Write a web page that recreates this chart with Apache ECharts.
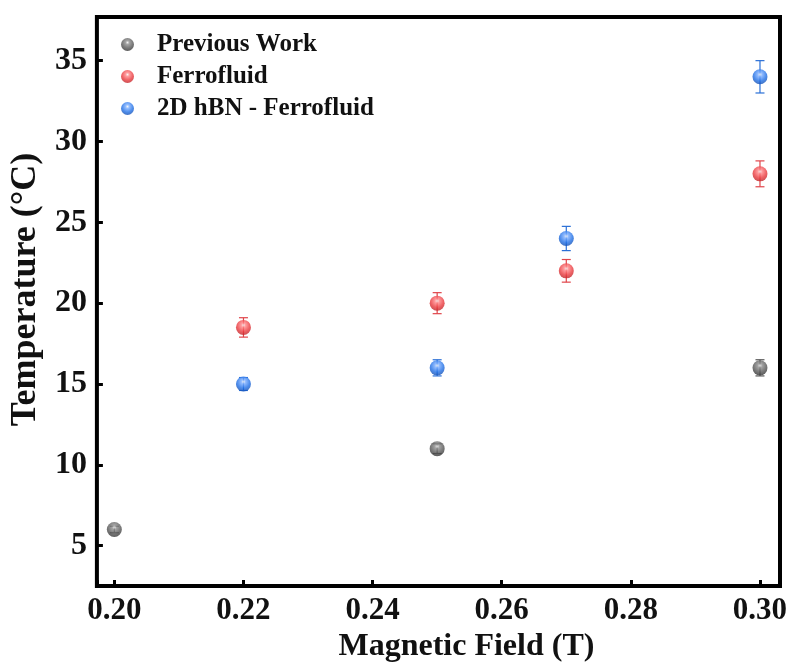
<!DOCTYPE html>
<html>
<head>
<meta charset="utf-8">
<script src="https://cdn.jsdelivr.net/npm/echarts@6/dist/echarts.min.js"></script>
<style>html,body{margin:0;padding:0;background:#fff;}#c{width:791px;height:668px;}</style>
</head>
<body>
<div id="c"></div>
<script>
const seriesNames = ['Previous Work', 'Ferrofluid', '2D hBN - Ferrofluid'];
const prevX = [0.20, 0.25, 0.30];
const prevY = [6, 11, 16];
const prevErr = [0.2, 0.3, 0.5];
const ferroX = [0.22, 0.25, 0.27, 0.30];
const ferroY = [18.5, 20, 22, 28];
const ferroErr = [0.6, 0.65, 0.7, 0.8];
const hbnX = [0.22, 0.25, 0.27, 0.30];
const hbnY = [15, 16, 24, 34];
const hbnErr = [0.4, 0.5, 0.75, 1.0];
const xTickStep = 0.02;
const yTickStep = 5;

const FONT = 'Liberation Serif';
function sphere(hi, base, edge) {
  return {
    type: 'radial', x: 0.5, y: 0.35, r: 0.65,
    colorStops: [
      {offset: 0, color: '#f4f4f4'},
      {offset: 0.22, color: hi},
      {offset: 0.65, color: base},
      {offset: 1, color: edge}
    ]
  };
}
const fills = [
  sphere('#8e8e8e', '#585858', '#333333'),
  sphere('#ff8486', '#ea3a3e', '#c02428'),
  sphere('#78acff', '#2170e6', '#1450b4')
];
const barColors = ['#555555', '#e0454a', '#2a6fd6'];
const sets = [[prevX, prevY, prevErr], [ferroX, ferroY, ferroErr], [hbnX, hbnY, hbnErr]];

function pts(i) { return sets[i][0].map((x, k) => [x, sets[i][1][k], sets[i][2][k]]); }

function errSeries(i) {
  return {
    type: 'custom', name: 'err' + i, z: 2,
    data: pts(i),
    encode: {x: 0, y: 1},
    renderItem: function (params, api) {
      const x = api.value(0), y = api.value(1), e = api.value(2);
      const t = api.coord([x, y + e]);
      const b = api.coord([x, y - e]);
      const hw = 4.5;
      const st = {stroke: barColors[i], lineWidth: 1.2};
      return {type: 'group', children: [
        {type: 'line', shape: {x1: t[0], y1: t[1], x2: b[0], y2: b[1]}, style: st},
        {type: 'line', shape: {x1: t[0] - hw, y1: t[1], x2: t[0] + hw, y2: t[1]}, style: st},
        {type: 'line', shape: {x1: b[0] - hw, y1: b[1], x2: b[0] + hw, y2: b[1]}, style: st}
      ]};
    }
  };
}
function scatterSeries(i) {
  return {
    type: 'scatter', name: seriesNames[i], z: 3,
    data: pts(i).map(p => [p[0], p[1]]),
    symbol: 'circle', symbolSize: 15,
    itemStyle: {color: fills[i]},
    emphasis: {disabled: true}
  };
}
function near(v, step) { return Math.abs(v / step - Math.round(v / step)) < 1e-6; }

const option = {
  animation: false,
  backgroundColor: '#ffffff',
  grid: {left: 96, right: 11, top: 17, bottom: 77, show: true, borderColor: '#000', borderWidth: 4, backgroundColor: 'transparent'},
  legend: {
    data: seriesNames, orient: 'vertical', left: 116, top: 27,
    itemWidth: 13, itemHeight: 13, itemGap: 7, icon: 'circle',
    textStyle: {fontFamily: FONT, fontWeight: 'bold', fontSize: 25, color: '#111', padding: [0, 0, 0, 18]}
  },
  xAxis: {
    type: 'value', min: 0.1973, max: 0.3031, splitNumber: 5,
    axisLine: {show: false}, splitLine: {show: false},
    axisTick: {show: true, inside: true, length: 6, lineStyle: {color: '#000', width: 3}},
    axisLabel: {margin: 9, fontFamily: FONT, fontWeight: 'bold', fontSize: 31, color: '#111',
      formatter: v => near(v, xTickStep) ? v.toFixed(2) : ''},
    name: 'Magnetic Field (T)', nameLocation: 'middle', nameGap: 36,
    nameTextStyle: {fontFamily: FONT, fontWeight: 'bold', fontSize: 32, color: '#111', padding: [0, 0, 0, 56]}
  },
  yAxis: {
    type: 'value', min: 2.5, max: 37.7, splitNumber: 7,
    axisLine: {show: false}, splitLine: {show: false},
    axisTick: {show: true, inside: true, length: 6, lineStyle: {color: '#000', width: 3}},
    axisLabel: {margin: 10, fontFamily: FONT, fontWeight: 'bold', fontSize: 32, color: '#111',
      formatter: v => near(v, yTickStep) ? String(Math.round(v)) : ''},
    name: 'Temperature (°C)', nameLocation: 'middle', nameGap: 51,
    nameTextStyle: {fontFamily: FONT, fontWeight: 'bold', fontSize: 36, color: '#111', padding: [0, 0, 0, 24]}
  },
  series: [errSeries(0), errSeries(1), errSeries(2), scatterSeries(0), scatterSeries(1), scatterSeries(2)]
};
const chart = echarts.init(document.getElementById('c'), null, {renderer: 'canvas'});
chart.setOption(option);
</script>
</body>
</html>
